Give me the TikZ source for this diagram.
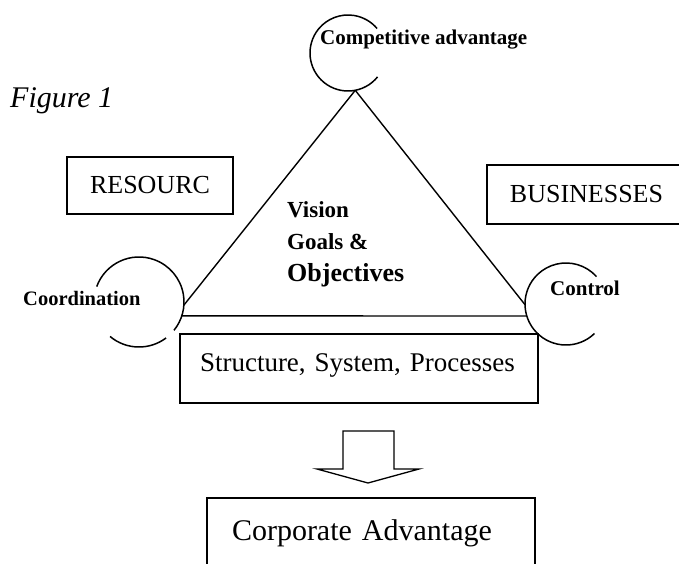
\documentclass[tikz,border=0pt]{standalone}
\usepackage{fontspec}
\setmainfont{Liberation Serif}
\begin{document}
\begin{tikzpicture}[x=1pt,y=-1pt,
  frame/.style={draw, line width=2pt, fill=white, inner sep=0pt, outer sep=0pt},
  ring/.style={circle, inner sep=0pt, outer sep=0pt, draw=none},
  arcline/.style={line width=1.5pt},
  side/.style={line width=1.4pt},
  lbl/.style={font=\bfseries\fontsize{21}{25}\selectfont, inner sep=0pt, anchor=base west}]
% page area
\clip (0,0) rectangle (679,564);
\fill[white] (0,0) rectangle (679,564);

% caption
\node[anchor=base west, inner sep=0pt, font=\itshape\fontsize{30}{36}\selectfont] (fig) at (10,108) {Figure 1};

% the three corner circles
\node[ring, minimum size=76pt] (top) at (348,53) {};
\node[ring, minimum size=90pt] (coord) at (139,302) {};
\node[ring, minimum size=82pt] (ctrl) at (566,304) {};

\draw[arcline] (top.center) ++(39:38) arc[start angle=39, end angle=320, radius=38];
\draw[arcline] (coord.center) ++(200:45) arc[start angle=200, end angle=399, radius=45];
\draw[arcline] (coord.center) ++(53:45) arc[start angle=53, end angle=130, radius=45];
\draw[arcline] (ctrl.center) ++(46:41) arc[start angle=46, end angle=318, radius=41];

% triangle sides
\draw[side] (top.-79) -- (coord.-4);
\draw[side] (top.-79) -- (ctrl.181);
\draw[side] (coord.-18) -- (ctrl.-163);

% circle labels
\node[lbl] (tcomp) at (320,45) {Competitive advantage};
\node[lbl, font=\bfseries\fontsize{20.5}{25}\selectfont] (tcoord) at (23,305) {Coordination};
\node[lbl] (tctrl) at (550,295) {Control};

% centre of the triangle
\node[lbl, font=\bfseries\fontsize{23}{28}\selectfont] (vis1) at (287,217) {Vision};
\node[lbl, font=\bfseries\fontsize{23}{28}\selectfont] (vis2) at (287,249) {Goals \&};
\node[lbl, font=\bfseries\fontsize{26}{30}\selectfont] (vis3) at (287,281) {Objectives};

% side boxes
\node[frame, minimum width=166pt, minimum height=57pt, font=\fontsize{26}{30}\selectfont] (res) at (150,185.5) {RESOURC};
\node[frame, minimum width=199pt, minimum height=59pt, font=\fontsize{26}{30}\selectfont] (bus) at (586.5,194.5) {BUSINESSES};

% base box
\node[frame, minimum height=69pt, text width=318pt, inner xsep=20pt, align=left,
      text height=18pt, text depth=13pt, font=\fontsize{27}{32}\selectfont] (sb) at (359,368.5) {Structure, System, Processes};

% block arrow
\draw[line width=1.3pt, fill=white] (343,431) -- (394,431) -- (394,469) -- (419,469) -- (368,483) -- (317,469) -- (343,469) -- cycle;

% result box
\node[frame, minimum height=70pt, text width=278pt, inner xsep=25pt, align=left,
      text height=21pt, text depth=7pt, font=\fontsize{30}{36}\selectfont] (ca) at (371,533) {Corporate Advantage};
\end{tikzpicture}
\end{document}
